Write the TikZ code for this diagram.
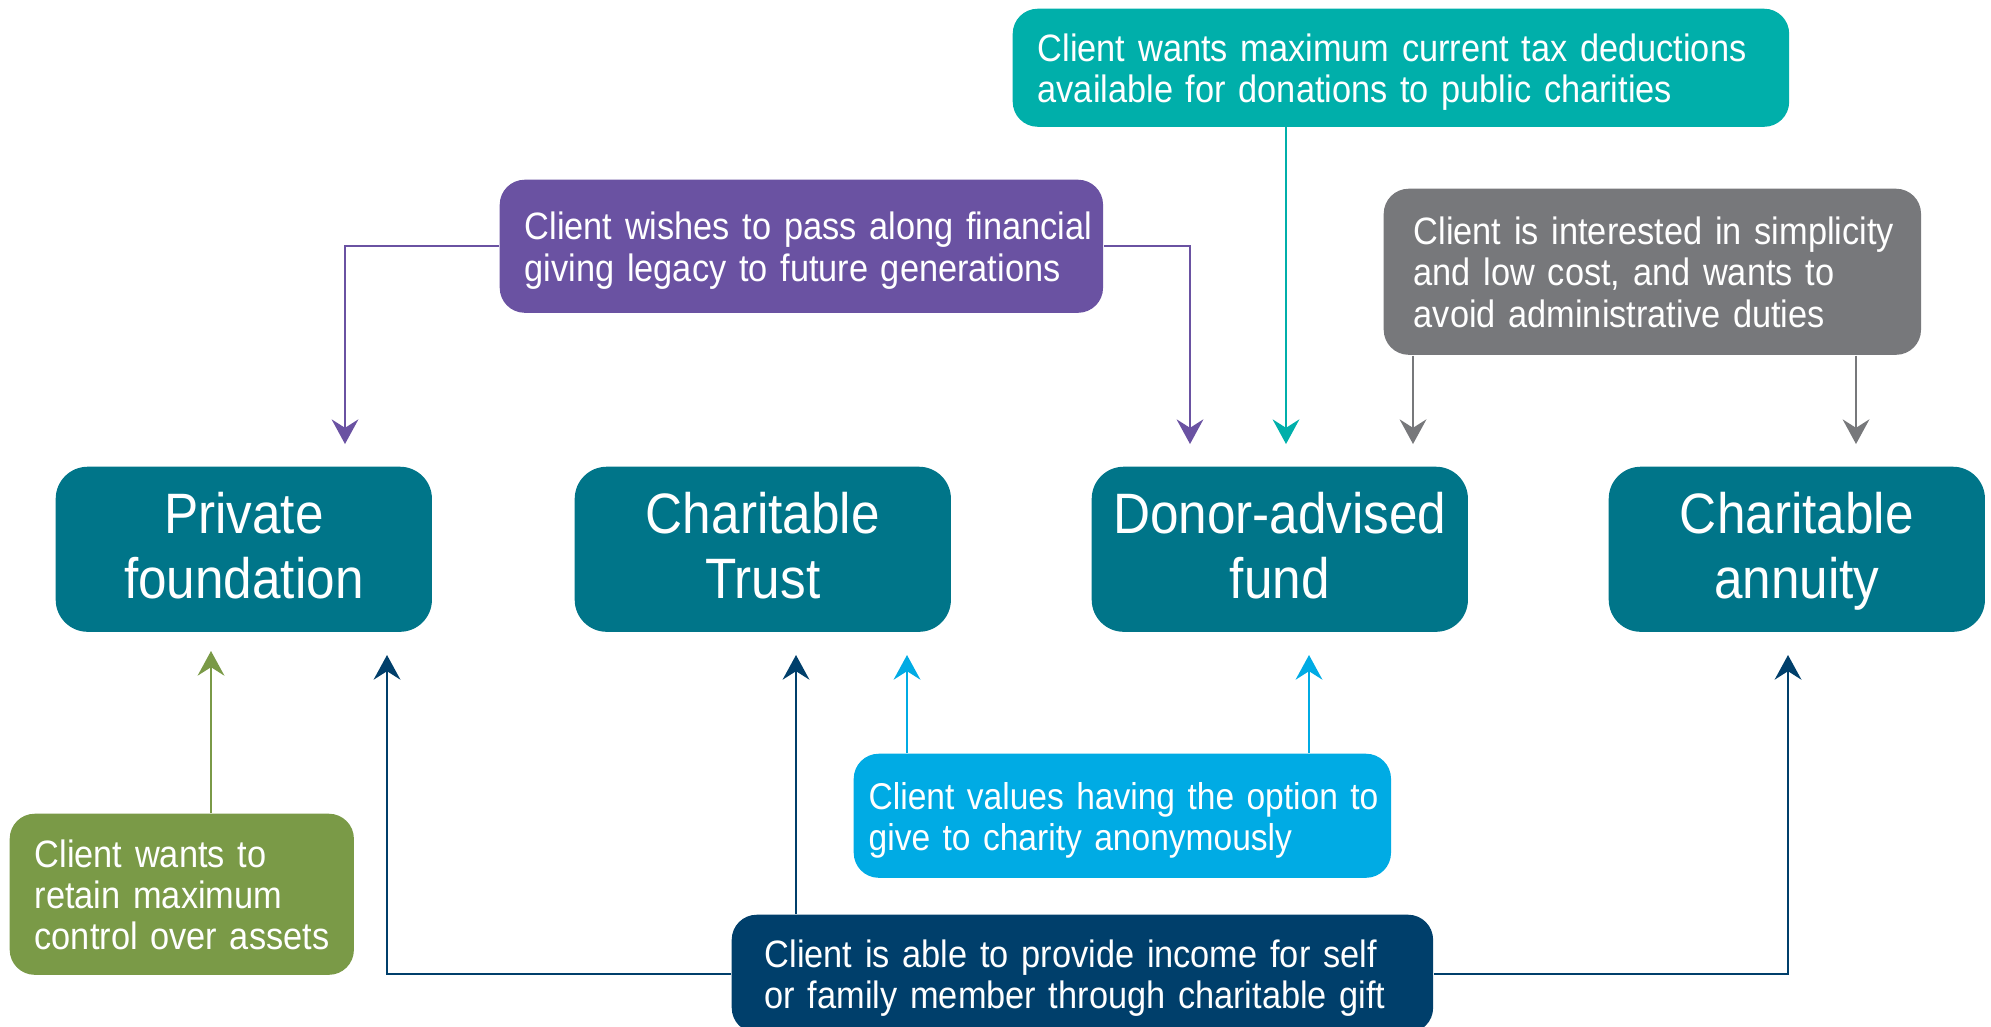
\documentclass[tikz,border=0pt]{standalone}
\usepackage{fontspec}
\setmainfont{Liberation Sans}[FakeStretch=0.9]
\usetikzlibrary{arrows.meta}
\definecolor{vehicle}{RGB}{0,117,137}
\definecolor{taxcol}{RGB}{0,175,170}
\definecolor{legacycol}{RGB}{106,82,162}
\definecolor{simplecol}{RGB}{119,120,123}
\definecolor{controlcol}{RGB}{122,154,71}
\definecolor{incomecol}{RGB}{0,63,107}
\definecolor{anoncol}{RGB}{0,171,228}
\newcommand{\lines}[1]{\begin{tabular}{@{}l@{}}\rule{0pt}{11.6pt}#1\end{tabular}}
\newcommand{\twolines}[1]{\begin{tabular}{@{}c@{}}\rule{0pt}{15.1pt}#1\end{tabular}}

\begin{document}
\begin{tikzpicture}[x=0.01cm, y=-0.01cm,
  mainbox/.style={fill=vehicle, text=white, rounded corners=0.32cm, minimum width=3.76cm, minimum height=1.65cm,
    inner sep=0pt, anchor=north west, font=\fontsize{16.2}{18.4}\selectfont},
  notebox/.style={text=white, rounded corners=0.25cm, align=left, inner ysep=0pt, anchor=north west,
    font=\fontsize{10.85}{11.7}\selectfont},
  link/.style={line width=0.7pt, -{Stealth[length=7pt, width=7.6pt, inset=2.4pt]}}]
\clip (0,0) rectangle (1991,1026);

% the four giving vehicles
\node[mainbox] (pf) at (55,466) {\twolines{Private\\foundation}};
\node[mainbox] (ct) at (574,466) {\twolines{Charitable\\Trust}};
\node[mainbox] (daf) at (1091,466) {\twolines{Donor-advised\\fund}};
\node[mainbox] (ca) at (1608,466) {\twolines{Charitable\\annuity}};

% client goals
\node[notebox, fill=taxcol, text width=7.26cm, inner xsep=0.25cm, minimum height=1.18cm] (tax) at (1012,8)
  {\lines{Client wants maximum current tax deductions\\available for donations to public charities}};
\node[notebox, fill=legacycol, text width=5.53cm, inner xsep=0.25cm, minimum height=1.33cm] (legacy) at (499,179)
  {\lines{Client wishes to pass along financial\\giving legacy to future generations}};
\node[notebox, fill=simplecol, text width=4.77cm, inner xsep=0.30cm, minimum height=1.66cm] (simple) at (1383,188)
  {\lines{Client is interested in simplicity\\and low cost, and wants to\\avoid administrative duties}};
\node[notebox, fill=controlcol, text width=2.94cm, inner xsep=0.25cm, minimum height=1.61cm] (control) at (9,813)
  {\lines{Client wants to\\retain maximum\\control over assets}};
\node[notebox, fill=anoncol, text width=5.07cm, inner xsep=0.15cm, minimum height=1.24cm,
  font=\fontsize{10.6}{11.7}\selectfont] (anon) at (853,753)
  {\lines{Client values having the option to\\give to charity anonymously}};
\node[notebox, fill=incomecol, text width=6.35cm, inner xsep=0.33cm, minimum height=1.18cm] (income) at (731,914)
  {\lines{Client is able to provide income for self\\or family member through charitable gift}};

% arrow tips above and below the vehicles
\coordinate (pf-in) at (345,444);
\coordinate (daf-in1) at (1190,444);
\coordinate (daf-in2) at (1286,444);
\coordinate (daf-in3) at (1413,444);
\coordinate (ca-in) at (1856,444);
\coordinate (pf-up1) at (211,651);
\coordinate (pf-up2) at (387,655);
\coordinate (ct-up1) at (796,655);
\coordinate (ct-up2) at (907,655);
\coordinate (daf-up) at (1309,655);
\coordinate (ca-up) at (1788,655);

\draw[link, legacycol] (legacy.west) -| (pf-in);
\draw[link, legacycol] (legacy.east) -| (daf-in1);
\draw[link, taxcol] (tax.south -| daf-in2) -- (daf-in2);
\draw[link, simplecol] (simple.south -| daf-in3) -- (daf-in3);
\draw[link, simplecol] (simple.south -| ca-in) -- (ca-in);
\draw[link, controlcol] (control.north -| pf-up1) -- (pf-up1);
\draw[link, incomecol] (income.west) -| (pf-up2);
\draw[link, incomecol] (income.north -| ct-up1) -- (ct-up1);
\draw[link, incomecol] (income.east) -| (ca-up);
\draw[link, anoncol] (anon.north -| ct-up2) -- (ct-up2);
\draw[link, anoncol] (anon.north -| daf-up) -- (daf-up);
\end{tikzpicture}
\end{document}
